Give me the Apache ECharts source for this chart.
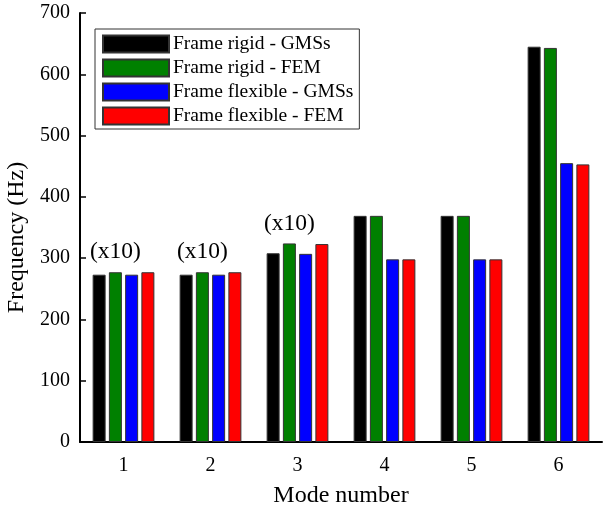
<!DOCTYPE html>
<html>
<head>
<meta charset="utf-8">
<style>
  html, body { margin: 0; padding: 0; background: #fff; }
  #chart { width: 605px; height: 506px; }
</style>
<script src="https://cdn.jsdelivr.net/npm/echarts@6/dist/echarts.min.js"></script>
</head>
<body>
<div id="chart"></div>
<script>
// Natural frequencies per mode, four model variants
const modes = ['1', '2', '3', '4', '5', '6'];
const rigidGMSs = [273, 273, 308, 369, 369, 645];
const rigidFEM = [277, 277, 324, 369, 369, 643];
const flexibleGMSs = [273, 273, 307, 298, 298, 455];
const flexibleFEM = [277, 277, 323, 298, 298, 453];
// Modes whose bars are shown scaled by ten
const scaledModes = [0, 1, 2];
const scaleNote = '(x10)';

const seriesNames = [
  'Frame rigid - GMSs',
  'Frame rigid - FEM',
  'Frame flexible - GMSs',
  'Frame flexible - FEM'
];
const seriesData = [rigidGMSs, rigidFEM, flexibleGMSs, flexibleFEM];
const seriesColors = ['#000000', '#008000', '#0000ff', '#ff0000'];

const font = 'Liberation Serif, Times New Roman, serif';

const notePoints = scaledModes.map(i => ({
  coord: [i, Math.max(rigidGMSs[i], rigidFEM[i], flexibleGMSs[i], flexibleFEM[i])],
  value: scaleNote
}));

const series = seriesData.map((d, k) => ({
  name: seriesNames[k],
  type: 'bar',
  data: d,
  barWidth: 13,
  barGap: '25%',
  itemStyle: { color: seriesColors[k], borderColor: '#333', borderWidth: 1 },
  emphasis: { disabled: true },
  markPoint: k === 1 ? {
    symbol: 'circle',
    symbolSize: 0,
    silent: true,
    label: {
      show: true,
      position: 'top',
      distance: 8,
      formatter: p => p.value,
      color: '#000',
      fontFamily: font,
      fontSize: 23.5
    },
    data: notePoints
  } : undefined
}));

const chart = echarts.init(document.getElementById('chart'), null, { renderer: 'canvas' });
chart.setOption({
  animation: false,
  backgroundColor: '#fff',
  grid: { left: 80, right: 3, top: 13, bottom: 64, containLabel: false, outerBoundsMode: 'none' },
  legend: {
    orient: 'vertical',
    left: 95,
    top: 29,
    padding: [5, 6, 3, 7],
    itemWidth: 66,
    itemHeight: 17,
    itemGap: 4,
    icon: 'rect',
    borderColor: '#333',
    borderWidth: 1,
    textStyle: { fontFamily: font, fontSize: 19.5, color: '#000', padding: [0, 0, 0, -1] },
    data: seriesNames
  },
  xAxis: {
    type: 'category',
    data: modes,
    name: 'Mode number',
    nameLocation: 'middle',
    nameGap: 42,
    nameTextStyle: { fontFamily: font, fontSize: 24, color: '#000' },
    axisLine: { lineStyle: { color: '#000', width: 2 } },
    axisTick: { show: false },
    axisLabel: { fontFamily: font, fontSize: 20, color: '#000', margin: 14 }
  },
  yAxis: {
    type: 'value',
    min: 0,
    max: 700,
    interval: 100,
    name: 'Frequency (Hz)',
    nameLocation: 'middle',
    nameGap: 48,
    nameTextStyle: { fontFamily: font, fontSize: 24, color: '#000', padding: [0, 20, 0, 0] },
    axisLine: { show: true, lineStyle: { color: '#000', width: 2 } },
    axisTick: { show: true, inside: true, length: 6, lineStyle: { color: '#000', width: 1.5 } },
    splitLine: { show: false },
    axisLabel: { fontFamily: font, fontSize: 20, color: '#000', margin: 10 }
  },
  series: series
});
</script>
</body>
</html>
